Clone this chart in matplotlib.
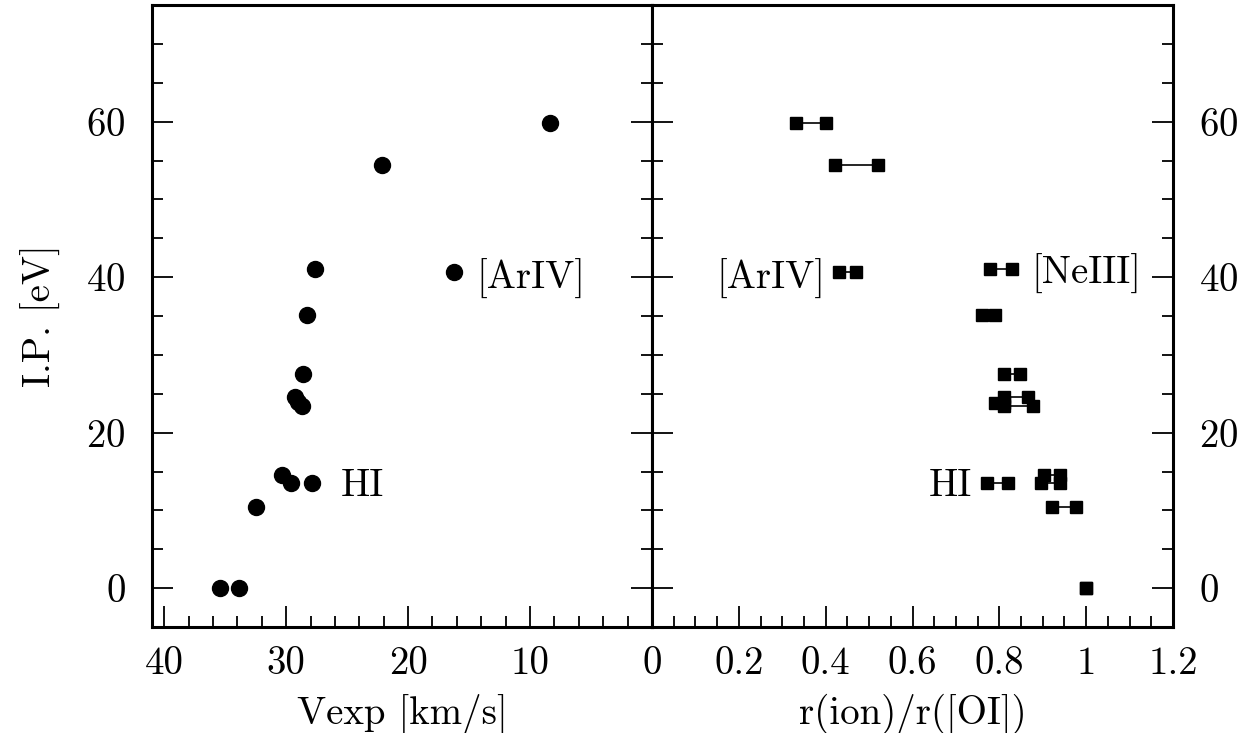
import matplotlib.pyplot as plt

plt.rcParams['font.family'] = ['cmr10', 'DejaVu Serif']
plt.rcParams['axes.formatter.use_mathtext'] = True

# left panel: expansion velocity vs ionisation potential
vexp = [8.4, 22.1, 27.6, 16.2, 28.3, 28.6, 29.3, 29.0, 28.7, 30.3, 29.6, 27.9, 32.5, 35.4, 33.9]
ip_left = [59.8, 54.4, 41.1, 40.7, 35.1, 27.6, 24.6, 23.9, 23.4, 14.5, 13.5, 13.5, 10.4, 0.0, 0.0]

# right panel: r(ion)/r([OI]) ranges (two estimates joined by a line)
ip_right = [59.8, 54.4, 40.7, 41.1, 35.1, 27.6, 24.6, 23.8, 23.4, 14.5, 13.5, 13.5, 10.4, 0.0]
ratio_lo = [0.332, 0.421, 0.430, 0.779, 0.759, 0.810, 0.810, 0.789, 0.810, 0.904, 0.897, 0.771, 0.921, 1.0]
ratio_hi = [0.400, 0.520, 0.469, 0.830, 0.789, 0.848, 0.866, 0.810, 0.878, 0.940, 0.940, 0.820, 0.977, 1.0]

y_ticks = [0, 20, 40, 60]
vexp_ticks = [40, 30, 20, 10]
vexp_labels = ['40', '30', '20', '10']
ratio_ticks = [0, 0.2, 0.4, 0.6, 0.8, 1.0, 1.2]
ratio_labels = ['0', '0.2', '0.4', '0.6', '0.8', '1', '1.2']

fs = 28

fig = plt.figure(figsize=(12.6, 7.33), dpi=100)
W, H = 1260, 733
ax1 = fig.add_axes([152 / W, 1 - 627 / H, 500 / W, 622 / H])
ax2 = fig.add_axes([652 / W, 1 - 627 / H, 521 / W, 622 / H])

for ax in (ax1, ax2):
    for s in ax.spines.values():
        s.set_linewidth(2.2)
    ax.set_ylim(-5, 75)
    ax.set_yticks(y_ticks)
    ax.set_yticks(range(-5, 75, 5), minor=True)
    ax.tick_params(which='both', direction='in', left=True, right=True, top=False,
                   width=1.3, labelsize=fs)
    ax.tick_params(which='major', length=15)
    ax.tick_params(which='minor', length=8)
    ax.tick_params(axis='y', pad=19)
    ax.tick_params(axis='x', pad=14)

# left panel
ax1.plot(vexp, ip_left, 'o', color='black', markersize=11.5)
ax1.set_xlim(41, 0)
ax1.set_xticks(vexp_ticks)
ax1.set_xticklabels(vexp_labels)
ax1.set_xticks(range(0, 41, 2), minor=True)
ax1.set_ylabel('I.P. [eV]', fontsize=fs, labelpad=18)
ax1.set_xlabel('Vexp [km/s]', fontsize=fs, labelpad=8)
ax1.text(14.4, 38.5, '[ArIV]', fontsize=fs, ha='left', va='baseline')
ax1.text(25.5, 11.9, 'HI', fontsize=fs, ha='left', va='baseline')

# right panel
ax2.hlines(ip_right, ratio_lo, ratio_hi, color='black', linewidth=1.2)
ax2.plot(ratio_lo, ip_right, 's', color='black', markersize=8.5)
ax2.plot(ratio_hi, ip_right, 's', color='black', markersize=8.5)
ax2.set_xlim(0, 1.2)
ax2.set_xticks(ratio_ticks)
ax2.set_xticklabels(ratio_labels)
ax2.set_xticks([i * 0.05 for i in range(25)], minor=True)
ax2.tick_params(axis='y', labelleft=False, labelright=True)
ax2.set_xlabel('r(ion)/r([OI])', fontsize=fs, labelpad=8)
ax2.text(0.148, 38.5, '[ArIV]', fontsize=fs, ha='left', va='baseline')
ax2.text(0.874, 39.1, '[NeIII]', fontsize=fs, ha='left', va='baseline')
ax2.text(0.637, 11.9, 'HI', fontsize=fs, ha='left', va='baseline')

fig.savefig('out.png', dpi=100)
